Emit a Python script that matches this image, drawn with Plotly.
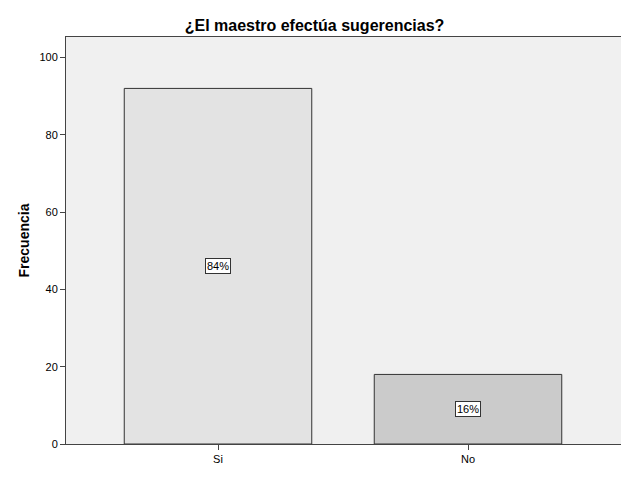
import plotly.graph_objects as go

categories = ["Si", "No"]
frecuencia = [92, 18]
porcentajes = ["84%", "16%"]
bar_colors = ["#e3e3e3", "#cbcbcb"]

W, H = 621, 496

fig = go.Figure()
fig.add_trace(go.Bar(
    x=categories, y=frecuencia, width=0.75,
    marker=dict(color=bar_colors, line=dict(color="#333333", width=1)),
    hoverinfo="skip", showlegend=False,
))

for c, v, p in zip(categories, frecuencia, porcentajes):
    fig.add_annotation(
        x=c, y=v / 2, text=p, showarrow=False,
        font=dict(family="Liberation Sans, Arial", size=11, color="#000000"),
        bgcolor="#ffffff", bordercolor="#333333", borderwidth=1, borderpad=1,
    )

fig.update_layout(
    width=W, height=H,
    paper_bgcolor="#ffffff", plot_bgcolor="#f0f0f0",
    margin=dict(l=58, r=7, t=29, b=60),
    title=dict(text="<b>¿El maestro efectúa sugerencias?</b>", x=0.4936, xanchor="center",
               y=1 - 17 / H, yanchor="middle",
               font=dict(family="Liberation Sans, Arial", size=16, color="#000000")),
    font=dict(family="Liberation Sans, Arial", size=11, color="#000000"),
)
fig.update_xaxes(
    range=[-0.608, 1.616], showgrid=False, zeroline=False,
    showline=True, linecolor="#444444", linewidth=1, mirror=True,
    ticks="outside", ticklen=5, tickcolor="#444444",
    tickfont=dict(size=11),
)
fig.update_yaxes(
    range=[0, 105.3], tickvals=[0, 20, 40, 60, 80, 100], showgrid=False, zeroline=False,
    showline=True, linecolor="#444444", linewidth=1, mirror=True,
    ticks="outside", ticklen=5, tickcolor="#444444",
    tickfont=dict(size=11),
    title=dict(text="<b>Frecuencia</b>", font=dict(size=14), standoff=6),
)

fig.write_html("out.html")
